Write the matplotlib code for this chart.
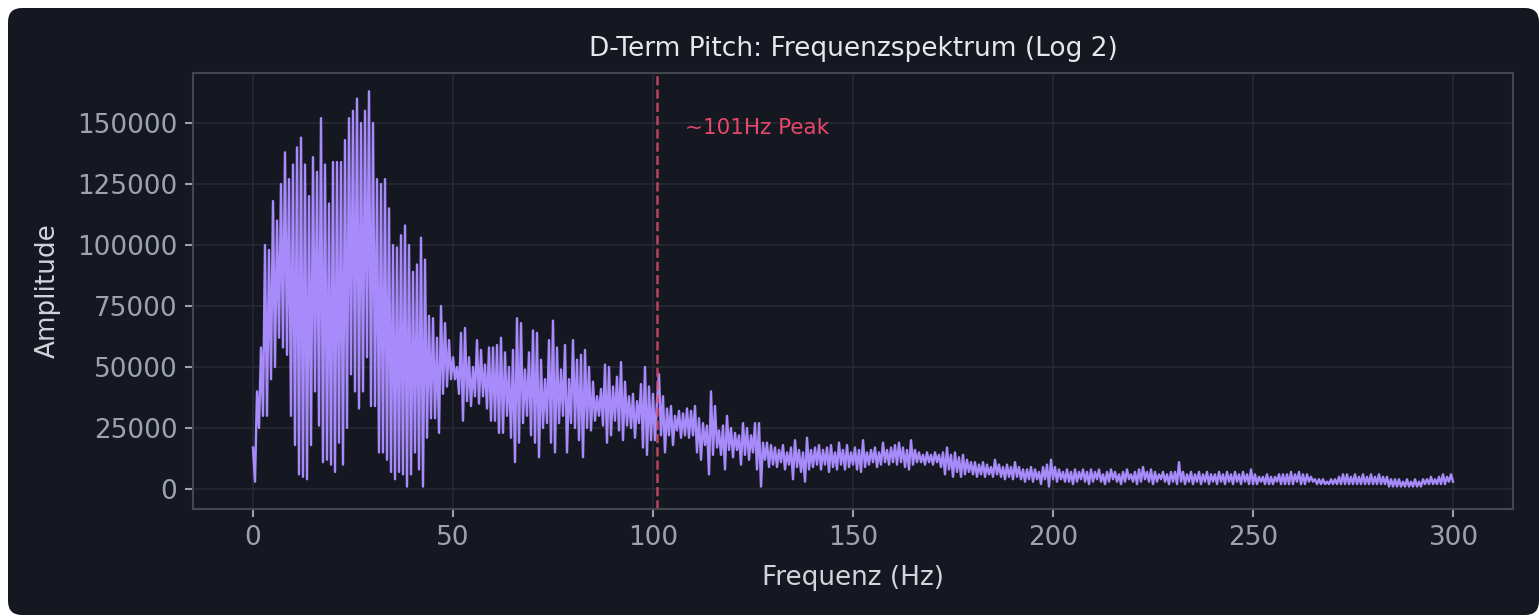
import numpy as np
import matplotlib
matplotlib.use('Agg')
import matplotlib.pyplot as plt
from matplotlib.patches import FancyBboxPatch
from matplotlib.transforms import IdentityTransform

# amplitude in thousands, one value every 0.5 Hz
amp_0_50 = [
    17, 3, 40, 25, 58, 30, 100, 30, 98, 45, 118, 50, 110, 62, 125, 58, 138, 55, 127, 30,
    133, 18, 140, 6, 144, 5, 133, 4, 120, 18, 136, 40, 130, 26, 152, 11, 133, 12, 117, 10,
    134, 7, 134, 19, 134, 10, 143, 25, 152, 47, 155, 40, 160, 33, 150, 40, 155, 54, 163, 34,
    150, 34, 127, 15, 125, 15, 127, 12, 115, 7, 100, 4, 99, 7, 104, 6, 108, 1, 100, 6,
    89, 15, 92, 8, 103, 1, 94, 21, 71, 29, 70, 29, 62, 23, 75, 39, 68, 42, 61, 45,
]
amp_50_100 = [
    54, 45, 50, 39, 64, 28, 66, 36, 54, 34, 50, 38, 61, 35, 57, 38, 51, 33, 58, 28,
    58, 28, 59, 23, 62, 23, 56, 30, 50, 21, 57, 11, 70, 19, 68, 27, 49, 30, 56, 22,
    65, 19, 64, 13, 53, 25, 45, 27, 61, 19, 69, 15, 58, 27, 49, 30, 59, 15, 45, 27,
    61, 25, 53, 20, 55, 13, 57, 25, 50, 24, 44, 28, 38, 30, 41, 26, 51, 19, 50, 22,
    42, 28, 46, 24, 52, 20, 44, 26, 38, 25, 39, 21, 36, 27, 43, 17, 50, 14, 42, 20,
]
amp_100_150 = [
    39, 20, 36, 47, 22, 38, 15, 33, 22, 34, 18, 30, 24, 32, 21, 31, 22, 33, 21, 32,
    22, 34, 15, 29, 12, 27, 18, 26, 6, 40, 14, 34, 17, 24, 14, 26, 8, 30, 16, 25,
    13, 23, 16, 22, 10, 27, 14, 25, 12, 22, 15, 27, 8, 27, 1, 19, 12, 19, 9, 18,
    10, 17, 9, 16, 11, 18, 8, 15, 10, 17, 4, 20, 9, 16, 7, 15, 3, 21, 8, 16,
    9, 17, 10, 18, 8, 16, 10, 17, 7, 18, 9, 15, 8, 19, 10, 16, 8, 18, 9, 15,
]
amp_150_200 = [
    10, 17, 8, 16, 7, 20, 9, 15, 10, 16, 11, 17, 9, 15, 10, 19, 11, 16, 10, 17,
    11, 18, 10, 19, 11, 17, 9, 16, 8, 20, 10, 16, 11, 15, 11, 14, 10, 15, 11, 14,
    10, 15, 11, 14, 9, 15, 6, 17, 8, 14, 5, 15, 7, 13, 5, 14, 6, 12, 7, 11,
    6, 11, 5, 10, 6, 11, 5, 10, 6, 9, 5, 12, 6, 10, 5, 9, 4, 10, 5, 9,
    4, 11, 5, 9, 4, 8, 3, 8, 4, 9, 3, 8, 4, 7, 2, 9, 4, 10, 1, 12,
]
amp_200_250 = [
    4, 9, 3, 8, 4, 7, 3, 8, 3, 7, 2, 8, 3, 7, 4, 8, 3, 7, 2, 8,
    3, 7, 4, 8, 3, 6, 2, 7, 3, 8, 4, 7, 3, 6, 2, 7, 3, 8, 4, 6,
    3, 7, 2, 8, 3, 9, 4, 7, 3, 8, 2, 7, 3, 6, 4, 7, 3, 6, 2, 7,
    3, 7, 2, 11, 3, 7, 2, 6, 3, 7, 2, 6, 3, 7, 2, 6, 3, 7, 2, 6,
    3, 6, 2, 7, 3, 6, 2, 7, 3, 6, 2, 7, 3, 6, 2, 7, 3, 6, 2, 8,
]
amp_250_300 = [
    2, 6, 2, 5, 3, 5, 2, 6, 2, 5, 2, 5, 3, 6, 2, 6, 2, 6, 2, 7,
    2, 6, 3, 7, 2, 6, 2, 6, 3, 5, 3, 4, 2, 4, 2, 4, 2, 3, 2, 4,
    2, 4, 2, 5, 2, 6, 2, 6, 2, 5, 2, 6, 2, 5, 2, 6, 2, 5, 2, 6,
    2, 5, 2, 6, 2, 5, 2, 5, 1, 4, 1, 4, 1, 4, 1, 3, 1, 4, 1, 3,
    1, 4, 1, 3, 1, 4, 2, 4, 2, 5, 2, 4, 2, 5, 2, 6, 2, 5, 3, 6,
    3,
]
freq_step = 0.5
peak_freq = 101
peak_label = '~101Hz Peak'

amp = np.array(amp_0_50 + amp_50_100 + amp_100_150 + amp_150_200
               + amp_200_250 + amp_250_300, dtype=float) * 1000
freqs = np.arange(len(amp)) * freq_step

bg = '#151821'
fig = plt.figure(figsize=(1539 / 150, 616 / 150), dpi=150, facecolor='white')
card = FancyBboxPatch((8, 1), 1531, 607, boxstyle='round,pad=0,rounding_size=14',
                      transform=IdentityTransform(), facecolor=bg, edgecolor='none',
                      zorder=-10)
fig.add_artist(card)

ax = fig.add_axes([193 / 1539, 1 - 509 / 616, (1513 - 193) / 1539, (509 - 73) / 616])
ax.set_facecolor(bg)
ax.plot(freqs, amp, color='#a78bfa', lw=1.15)
ax.axvline(peak_freq, color='#e0506e', ls='--', lw=1.2, alpha=0.8)
ax.text(peak_freq + 7, 148000, peak_label, color='#e8476c', fontsize=10.3, va='center')

ax.set_xlim(-15, 315)
ax.set_ylim(-8200, 170500)
ax.grid(True, color='#262a33', lw=0.8)
ax.set_axisbelow(True)
for s in ax.spines.values():
    s.set_color('#44474f')
    s.set_linewidth(1.0)
ax.tick_params(colors='#9ca3af', labelsize=12.6, length=4, width=1)
ax.set_xticks([0, 50, 100, 150, 200, 250, 300])
ax.set_yticks([0, 25000, 50000, 75000, 100000, 125000, 150000])
ax.set_title('D-Term Pitch: Frequenzspektrum (Log 2)', color='#e5e7eb', fontsize=12.7, pad=8)
ax.set_xlabel('Frequenz (Hz)', color='#d1d5db', fontsize=12.6, labelpad=7)
ax.set_ylabel('Amplitude', color='#d1d5db', fontsize=12.6, labelpad=8)

fig.savefig('out.png', dpi=150, facecolor='white')
